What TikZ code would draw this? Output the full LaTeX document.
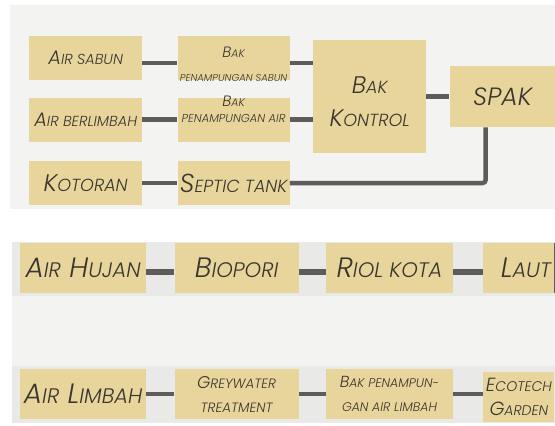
\documentclass[tikz,border=0pt]{standalone}
\usepackage{fontspec}
\setmainfont{Poppins Light}[ItalicFont={Poppins Light Italic}]
\usepackage{xcolor}
\usepackage{tikz}
\usetikzlibrary{positioning}
\definecolor{BoxTan}{HTML}{E8D59C}
\definecolor{LineGrey}{HTML}{5C5C5C}
\definecolor{TextBrown}{HTML}{3A352F}
\definecolor{PanelGrey}{HTML}{F3F3F1}
\definecolor{BandGrey}{HTML}{E9E9E7}
\newcommand{\smsize}{12}
\newcommand{\sml}[2][\smsize]{{\fontsize{#1}{#1}\selectfont\MakeUppercase{#2}}}

\begin{document}
\begin{tikzpicture}[x=1pt, y=-1pt,
    box/.style = {rectangle, fill=BoxTan, inner sep=0pt, align=center,
      text=TextBrown, font=\itshape},
    boxtext/.style = {inner sep=0pt, align=center, text=TextBrown},
    sz/.style 2 args = {font={\itshape\fontsize{#1}{#1}\selectfont
      \renewcommand{\smsize}{#2}}},
    smallbox/.style = {box, minimum width=113pt, minimum height=44pt},
    rowbox/.style = {box, minimum height=50pt},
    edge/.style = {line width=4.5pt, draw=LineGrey},
    wideedge/.style = {line width=5.5pt, draw=LineGrey}
  ]
  \useasboundingbox (0,0) rectangle (555,426);
  \fill [white] (0,0) rectangle (555,426);
  \fill [PanelGrey] (10,5) rectangle (555,209);
  \fill [PanelGrey] (12,242) rectangle (555,423);
  \fill [BandGrey] (12,242) rectangle (555,296);
  \fill [BandGrey] (12,366) rectangle (555,423);

  \node (airsabun) [smallbox, anchor=north west, sz={19.5}{14.5}] at (29,36)
    {A\sml{ir sabun}};
  \node (airlimbah) [smallbox, below=17pt of airsabun, sz={19.5}{14.5}]
    {A\sml{ir berlimbah}};
  \node (kotoran) [smallbox, below=19pt of airlimbah, sz={24}{17.5}]
    {K\sml{otoran}};
  \node (baksabun) [smallbox, minimum width=112pt, right=35pt of airsabun] {};
  \node (bakair) [smallbox, minimum width=112pt, right=35pt of airlimbah] {};
  \node (septic) [smallbox, minimum width=112pt, right=35pt of kotoran,
    sz={26}{17.5}] {S\sml{eptic tank}};
  \node (kontrol) [box, minimum size=113pt, anchor=north west] at (313,40) {};
  \node (spak) [box, minimum width=106pt, minimum height=61pt,
    right=23pt of kontrol, sz={25}{25}] {SPAK};
  \node (baksabun-t) [boxtext, sz={15}{11}] at ([yshift=-6pt]baksabun)
    {B\sml{ak}\\[9pt]\sml[10]{penampungan sabun}};
  \node (bakair-t) [boxtext, sz={15}{11}] at ([yshift=10pt]bakair)
    {B\sml{ak}\\[1pt]\sml[11.5]{penampungan air}};
  \node (kontrol-t) [boxtext, sz={24}{17.5}] at ([yshift=-5pt]kontrol)
    {B\sml{ak}\\[9pt]K\sml{ontrol}};

  \node (hujan) [rowbox, minimum width=126pt, anchor=north west, sz={28}{21}]
    at (20,243) {A\sml{ir} H\sml{ujan}};
  \node (biopori) [rowbox, minimum width=124pt, right=28pt of hujan,
    sz={28}{21}] {B\sml{iopori}};
  \node (riol) [rowbox, minimum width=127pt, right=27pt of biopori,
    sz={28}{21}] {R\sml{iol kota}};
  \node (laut) [rowbox, minimum width=71pt, right=30pt of riol] {};
  \node (laut-t) [boxtext, sz={28}{21}] at ([xshift=7pt]laut) {L\sml{aut}};
  \node (limbah) [rowbox, minimum width=126pt, anchor=north west, sz={28}{21}]
    at (20,369) {A\sml{ir} L\sml{imbah}};
  \node (greywater) [rowbox, minimum width=124pt, right=28pt of limbah,
    sz={17}{13.5}] {G\sml{reywater}\\[7pt]\sml{treatment}};
  \node (bakpen) [rowbox, minimum width=127pt, right=27pt of greywater,
    sz={16}{12.5}] {B\sml{ak penampun-}\\[8pt]\sml{gan air limbah}};
  \node (ecotech) [rowbox, minimum width=71pt, right=30pt of bakpen,
    yshift=-3pt, sz={19}{14}] {E\sml{cotech}\\[5pt]G\sml{arden}};

  \draw [edge] ([yshift=-5pt]airsabun.east) -- ([yshift=-5pt]baksabun.west);
  \draw [edge] ([yshift=-5pt]baksabun.east)
    -- ([yshift=-5pt]baksabun.east -| kontrol.west);
  \draw [edge] (airlimbah) -- (bakair);
  \draw [edge] (bakair.east) -- (bakair.east -| kontrol.west);
  \draw [edge] (kotoran) -- (septic);
  \draw [edge] (kontrol) -- (spak);
  \draw [edge, rounded corners=3pt] (septic.east) -| ([xshift=-17pt]spak.south);

  \draw [wideedge] ([yshift=-4pt]hujan.east) -- ([yshift=-4pt]biopori.west);
  \draw [wideedge] ([yshift=-4pt]biopori.east) -- ([yshift=-4pt]riol.west);
  \draw [wideedge] ([yshift=-4pt]riol.east) -- ([yshift=-4pt]laut.west);
  \draw [edge, line width=2.5pt] ([xshift=1pt]laut.north east)
    -- ([xshift=1pt]laut.south east);
  \draw [edge] (limbah) -- (greywater);
  \draw [edge] (greywater) -- (bakpen);
  \draw [edge] (bakpen.east) -- (bakpen.east -| ecotech.west);
  \draw [LineGrey!40, line width=1pt] ([xshift=1pt]ecotech.north east)
    -- ([xshift=1pt]ecotech.south east);
\end{tikzpicture}
\end{document}
